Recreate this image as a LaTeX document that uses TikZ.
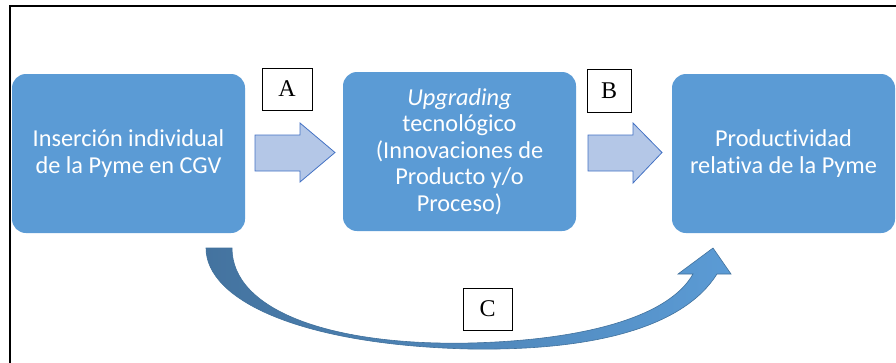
\documentclass[tikz,border=0pt]{standalone}
\usepackage{fontspec}
\setmainfont[Ligatures={NoCommon}]{Carlito}
\newfontfamily\labelfont{Liberation Serif}
\definecolor{boxblue}{HTML}{5B9BD5}
\definecolor{arrowfill}{HTML}{B4C7E7}
\definecolor{arrowline}{HTML}{4472C4}
\definecolor{curvedark}{HTML}{44739F}
\definecolor{curveline}{HTML}{41719C}
\begin{document}
\begin{tikzpicture}[x=1pt,y=-1pt,
  stagebox/.style={fill=boxblue, draw=none, rounded corners=14pt, text=white,
    align=center, font=\fontsize{24.3}{26.5}\selectfont, inner sep=0pt},
  lettertag/.style={draw=black, line width=0.8pt, fill=white, inner sep=0pt,
    font=\labelfont\fontsize{24}{26}\selectfont},
  blockarrow/.style={fill=arrowfill, draw=arrowline, line width=0.8pt, line join=miter}
]
\useasboundingbox (0,0) rectangle (896,362);
\clip (0,0) rectangle (896,362);
% outer frame
\draw[line width=1.3pt] (10,370) -- (10,6) -- (900,6);

% the three stages
\node[stagebox, minimum width=233pt, minimum height=159pt] (ins) at (128.5,153.5)
  {Inserción individual\\de la Pyme en CGV};
\node[stagebox, minimum width=233pt, minimum height=159pt] (upg) at (459.5,151.5)
  {\itshape Upgrading\\tecnológico\\(Innovaciones de\\Producto y/o\\Proceso)};
\node[stagebox, minimum width=223pt, minimum height=159pt] (prod) at (783.5,153.5)
  {Productividad\\relativa de la Pyme};

% block arrows between stages
\draw[blockarrow] (255,135) -- (300,135) -- (300,123) -- (335,152.5)
  -- (300,182) -- (300,171) -- (255,171) -- cycle;
\draw[blockarrow] (588,135) -- (633,135) -- (633,123) -- (662,152.5)
  -- (633,183) -- (633,171) -- (588,171) -- cycle;

% curved arrow from the first stage to the last
\shade[left color=curvedark, right color=boxblue, draw=curveline, line width=0.6pt]
  (206,248) .. controls (206,300) and (300,345) .. (470,349)
  .. controls (600,351) and (685,325) .. (717,274)
  -- (731,274) -- (713,248) -- (678,274) -- (693,274)
  .. controls (670,315) and (590,340) .. (470,343)
  .. controls (330,346) and (232,310) .. (232,248) -- cycle;

% letter tags
\node[lettertag, minimum width=50pt, minimum height=42pt] (tagA) at (287,89) {A};
\node[lettertag, minimum width=44pt, minimum height=43pt] (tagB) at (609,90.5) {B};
\node[lettertag, minimum width=49pt, minimum height=42pt] (tagC) at (487.5,309) {C};
\end{tikzpicture}
\end{document}
